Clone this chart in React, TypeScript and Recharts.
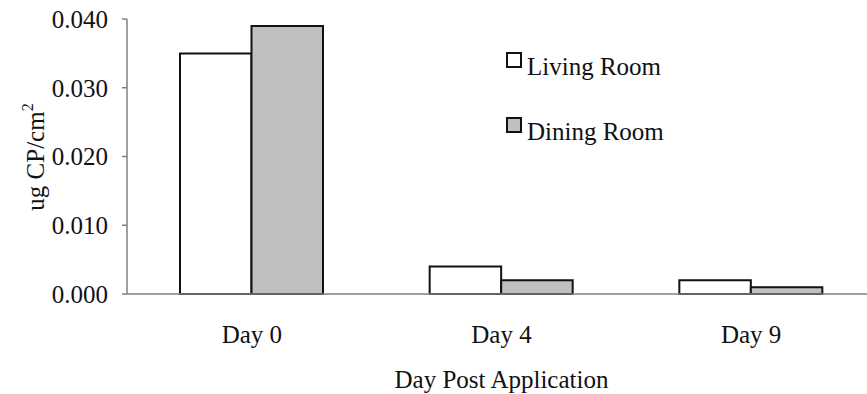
import React from 'react';
import { BarChart, Bar, XAxis, YAxis, Legend } from 'recharts';

const categories = ['Day 0', 'Day 4', 'Day 9'];
const livingRoom = [0.035, 0.004, 0.002];
const diningRoom = [0.039, 0.002, 0.001];
const yTicks = [0, 0.01, 0.02, 0.03, 0.04];
const seriesNames = ['Living Room', 'Dining Room'];
const seriesFills = ['#ffffff', '#c0c0c0'];

const data = categories.map((c, i) => ({ day: c, living: livingRoom[i], dining: diningRoom[i] }));

const FONT = 'Liberation Serif, Times New Roman, serif';
const TXT = '#111111';

const LegendContent = () => (
  <svg width={220} height={120} style={{ display: 'block', overflow: 'visible' }}>
    {seriesNames.map((n, i) => (
      <g key={n}>
        <rect x={7} y={13 + i * 65} width={14} height={14} fill={seriesFills[i]} stroke="#111" strokeWidth={2} />
        <text x={27} y={35 + i * 65} fontFamily={FONT} fontSize={25} fill={TXT}>{n}</text>
      </g>
    ))}
  </svg>
);

const YLabel = () => (
  <text
    x={43.5}
    y={157}
    transform="rotate(-90, 43.5, 157)"
    textAnchor="middle"
    fontFamily={FONT}
    fontSize={25}
    fill={TXT}
  >
    ug CP/cm<tspan dy={-11} fontSize={16}>2</tspan>
  </text>
);

const XLabel = (props: any) => {
  const vb = props.viewBox || {};
  return (
    <text x={vb.x + vb.width / 2} y={vb.y + 94} textAnchor="middle" fontFamily={FONT} fontSize={25} fill={TXT}>
      Day Post Application
    </text>
  );
};

export default function App() {
  return (
    <div style={{ position: 'absolute', left: 0, top: 0, width: 867, height: 394, overflow: 'hidden', background: '#fff' }}>
      <BarChart
        width={880}
        height={394}
        data={data}
        margin={{ top: 19, right: 4, left: 0, bottom: 0 }}
        barGap={0}
        barSize={71.5}
      >
        <XAxis
          dataKey="day"
          height={100}
          tickLine={false}
          tickSize={0}
          tickMargin={31}
          axisLine={{ stroke: '#808080', strokeWidth: 1.5 }}
          tick={{ fontFamily: FONT, fontSize: 25, fill: TXT }}
          label={<XLabel />}
        />
        <YAxis
          width={127}
          domain={[0, 0.04]}
          ticks={yTicks}
          interval={0}
          tickFormatter={(v: number) => v.toFixed(3)}
          tickSize={5}
          tickMargin={14}
          axisLine={{ stroke: '#808080', strokeWidth: 1.5 }}
          tickLine={{ stroke: '#808080', strokeWidth: 1.5 }}
          tick={{ fontFamily: FONT, fontSize: 25, fill: TXT }}
        />
        <Legend
          layout="vertical"
          align="center"
          verticalAlign="middle"
          content={<LegendContent />}
          wrapperStyle={{ position: 'absolute', top: 40, left: 500, width: 220, height: 120 }}
        />
        <Bar dataKey="living" name={seriesNames[0]} fill={seriesFills[0]} stroke="#111" strokeWidth={2} isAnimationActive={false} />
        <Bar dataKey="dining" name={seriesNames[1]} fill={seriesFills[1]} stroke="#111" strokeWidth={2} isAnimationActive={false} />
      </BarChart>
      <svg style={{ position: 'absolute', left: 0, top: 0, pointerEvents: 'none' }} width={867} height={394}>
        <YLabel />
      </svg>
    </div>
  );
}
